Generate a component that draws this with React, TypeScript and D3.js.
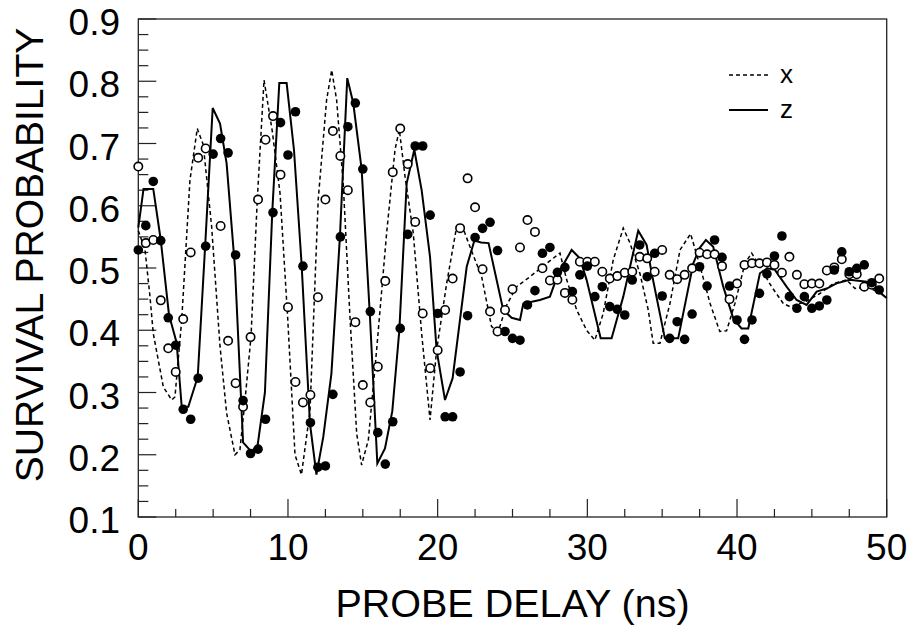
import React from "react";
import * as d3 from "d3";

// ---- data: open circles = x polarisation data, filled = z data ----
const openT = [0,0.5,1,1.5,2,2.5,3,3.5,4,4.5,5.5,6,6.5,7,7.5,8,8.5,9,9.5,10,10.5,11,11.5,12,12.5,13,13.5,14,14.5,15,15.5,16,16.5,17,17.5,18,18.5,19,19.5,20,20.5,21,21.5,22,22.5,23,23.5,24,24.5,25,25.5,26,26.5,27,27.5,28,28.5,29,29.5,30,30.5,31,31.5,32,32.5,33,33.5,34,34.5,35,35.5,36,36.5,37,37.5,38,38.5,39,39.5,40,40.5,41,41.5,42,42.5,43,43.5,44,44.5,45,45.5,46,46.5,47,47.5,48,48.5,49,49.5];
const openV = [0.663,0.54,0.545,0.448,0.371,0.333,0.418,0.525,0.677,0.692,0.5675,0.383,0.315,0.277,0.389,0.61,0.706,0.744,0.65,0.437,0.317,0.284,0.296,0.453,0.61,0.72,0.68,0.625,0.413,0.312,0.284,0.3415,0.479,0.654,0.724,0.667,0.574,0.427,0.339,0.368,0.4325,0.483,0.564,0.644,0.5975,0.498,0.43,0.398,0.4325,0.466,0.533,0.577,0.558,0.4995,0.48,0.481,0.46,0.449,0.51,0.51,0.51,0.494,0.483,0.487,0.4925,0.494,0.518,0.5155,0.494,0.529,0.489,0.482,0.489,0.4995,0.5246,0.522,0.522,0.503,0.45,0.475,0.505,0.5075,0.5075,0.509,0.505,0.4925,0.518,0.489,0.474,0.475,0.475,0.496,0.501,0.514,0.49,0.49,0.47,0.473,0.483];

const filledT = [0,0.5,1,1.5,2,2.5,3,3.5,4,4.5,5,5.5,6,6.5,7,7.5,8,8.5,9,9.5,10,10.5,11,11.5,12,12.5,13,13.5,14,14.5,15,15.5,16,16.5,17,17.5,18,18.5,19,19.5,20,20.5,21,21.5,22,22.5,23,23.5,24,24.5,25,25.5,26,26.5,27,27.5,28,28.5,29,29.5,30,30.5,31,31.5,32,32.5,33,33.5,34,34.5,35,35.5,36,36.5,37,37.5,38,38.5,39,39.5,40,40.5,41,41.5,42,42.5,43,43.5,44,44.5,45,45.5,46,46.5,47,47.5,48,48.5,49,49.5];
const filledV = [0.529,0.568,0.639,0.544,0.42,0.376,0.273,0.257,0.323,0.535,0.683,0.708,0.685,0.521,0.287,0.202,0.209,0.257,0.589,0.7335,0.6815,0.751,0.503,0.2515,0.18,0.182,0.297,0.55,0.727,0.765,0.659,0.43,0.2355,0.185,0.253,0.403,0.554,0.696,0.696,0.585,0.427,0.261,0.261,0.333,0.4234,0.549,0.5637,0.5734,0.528,0.398,0.387,0.384,0.4406,0.4636,0.5236,0.533,0.493,0.501,0.462,0.489,0.503,0.454,0.47,0.438,0.4336,0.4245,0.4807,0.537,0.486,0.5236,0.455,0.387,0.4137,0.3854,0.426,0.502,0.471,0.545,0.517,0.471,0.4165,0.3854,0.4165,0.4593,0.4904,0.5193,0.5514,0.454,0.4353,0.454,0.4353,0.439,0.4486,0.4968,0.526,0.494,0.4995,0.505,0.4764,0.4647];

// ---- theory curves ----
const zT = [0,0.35,1,1.5,2.05,2.56,2.9,3.34,3.97,4.5,4.97,5.46,5.9,6.46,7,7.55,7.97,8.46,8.95,9.42,9.91,10.4,10.9,11.47,11.9,12.36,12.9,13.47,13.96,14.36,14.92,15.48,15.97,16.48,16.97,17.44,17.93,18.44,18.93,19.49,19.93,20.49,21,21.94,22.45,22.9,23.4,24.38,24.94,25.5,25.72,26.83,27.5,28.06,28.95,29.5,29.95,30.89,31.62,32.4,33.4,33.96,34.3,35.18,36.07,37.08,37.5,37.92,38.41,39.08,39.75,40.3,40.75,41.53,42.02,42.53,43.31,43.98,44.65,45.32,45.99,46.65,47.54,48.66,49.88,50];
const zV = [0.565,0.627,0.627,0.545,0.425,0.38,0.277,0.277,0.325,0.55,0.757,0.732,0.668,0.5,0.22,0.205,0.215,0.3,0.59,0.797,0.797,0.69,0.51,0.25,0.168,0.229,0.33,0.55,0.805,0.765,0.659,0.42,0.186,0.21,0.27,0.4,0.636,0.69,0.625,0.518,0.368,0.288,0.323,0.502,0.544,0.541,0.54,0.4325,0.42,0.4165,0.443,0.4486,0.454,0.4915,0.529,0.5156,0.481,0.387,0.387,0.454,0.56,0.537,0.4915,0.387,0.387,0.5075,0.532,0.545,0.534,0.47,0.419,0.403,0.403,0.4915,0.4995,0.497,0.47,0.4486,0.4406,0.462,0.467,0.4754,0.481,0.478,0.454,0.452];

const xT = [0,0.45,0.78,1,1.67,2.23,2.45,2.9,3.45,3.94,4.34,4.9,5.46,5.9,6.46,6.79,7.1,7.53,7.95,8.4,8.95,9.47,9.98,10.47,10.9,11.47,12.02,12.58,12.92,13.25,13.69,14.14,14.59,14.92,15.37,15.92,16.59,17.15,17.44,17.82,18.37,18.93,19.49,19.93,20.6,21.27,21.6,22.16,22.94,23.6,24.05,24.6,25.28,26.17,27.28,28.17,28.62,29.29,29.95,30.5,31.06,31.73,32.4,32.85,33.51,34.07,34.4,34.85,35.52,36.19,36.9,37.54,38.2,38.85,39.3,39.86,40.53,40.98,41.53,42.31,43.09,43.53,44.5,45.54,46.43,47.32,47.88,48.66,49.88];
const xV = [0.56,0.529,0.454,0.395,0.309,0.288,0.293,0.4165,0.641,0.724,0.698,0.5665,0.374,0.267,0.2,0.208,0.28,0.39,0.61,0.802,0.72,0.62,0.42,0.2,0.168,0.27,0.61,0.77,0.818,0.77,0.636,0.422,0.234,0.1835,0.224,0.368,0.556,0.69,0.722,0.647,0.556,0.395,0.256,0.368,0.475,0.5665,0.57,0.534,0.486,0.406,0.398,0.44,0.47,0.486,0.5075,0.524,0.481,0.4325,0.4,0.384,0.427,0.513,0.564,0.54,0.4915,0.4325,0.379,0.379,0.443,0.529,0.555,0.502,0.443,0.398,0.399,0.443,0.5075,0.524,0.502,0.47,0.443,0.438,0.445,0.459,0.475,0.481,0.467,0.47,0.4565];

const xTickLabels = [0, 10, 20, 30, 40, 50];
const yTickLabels = [0.1, 0.2, 0.3, 0.4, 0.5, 0.6, 0.7, 0.8, 0.9];
const legendLabels = ["x", "z"];

const W = 911, H = 626;
const FONT = "'Liberation Sans', Arial, Helvetica, sans-serif";

export default function App() {
  const x = d3.scaleLinear().domain([0, 50]).range([138.3, 886.7]);
  const y = d3.scaleLinear().domain([0.1, 0.9]).range([517, 19]);

  const line = d3.line<[number, number]>().x(d => x(d[0])).y(d => y(d[1]));
  const zPath = line(zT.map((t, i) => [t, zV[i]]) as [number, number][]) || "";
  const xPath = line(xT.map((t, i) => [t, xV[i]]) as [number, number][]) || "";

  const xMinor = d3.range(0, 50.001, 2.5);
  const yMinor = d3.range(0.1, 0.9001, 0.025);

  return (
    <svg width={W} height={H} style={{ position: "absolute", left: 0, top: 0, background: "#fff" }}>
      <rect x={0} y={0} width={W} height={H} fill="#fff" />
      {/* frame */}
      <rect x={x(0)} y={y(0.9)} width={x(50) - x(0)} height={y(0.1) - y(0.9)} fill="none" stroke="#222" strokeWidth={1.3} />
      {/* ticks */}
      {xMinor.map((v, i) => {
        const major = Math.abs(v % 10) < 1e-6;
        return <line key={"xt" + i} x1={x(v)} x2={x(v)} y1={y(0.1)} y2={y(0.1) - (major ? 18 : 8)} stroke="#222" strokeWidth={1.2} />;
      })}
      {yMinor.map((v, i) => {
        const major = Math.abs(Math.round(v * 10) - v * 10) < 1e-6;
        return <line key={"yt" + i} x1={x(0)} x2={x(0) + (major ? 18 : 10)} y1={y(v)} y2={y(v)} stroke="#222" strokeWidth={1.2} />;
      })}
      {/* tick labels */}
      {xTickLabels.map(v => (
        <text key={"xl" + v} x={x(v)} y={560} textAnchor="middle" fontFamily={FONT} fontSize={37} fill="#000">{v}</text>
      ))}
      {yTickLabels.map(v => (
        <text key={"yl" + v} x={120} y={y(v) + 16} textAnchor="end" fontFamily={FONT} fontSize={37} fill="#000">{v.toFixed(1)}</text>
      ))}
      {/* axis titles */}
      <text x={512.5} y={617} textAnchor="middle" fontFamily={FONT} fontSize={39.5} fill="#000">PROBE DELAY (ns)</text>
      <text transform="translate(43,255) rotate(-90)" textAnchor="middle" fontFamily={FONT} fontSize={39} fill="#000">SURVIVAL PROBABILITY</text>

      {/* theory curves */}
      <path d={xPath} fill="none" stroke="#000" strokeWidth={1.5} strokeDasharray="4,3" />
      <path d={zPath} fill="none" stroke="#000" strokeWidth={2} strokeLinejoin="miter" />

      {/* data */}
      {openT.map((t, i) => (
        <circle key={"o" + i} cx={x(t)} cy={y(openV[i])} r={4.2} fill="#fff" stroke="#000" strokeWidth={1.6} />
      ))}
      {filledT.map((t, i) => (
        <circle key={"f" + i} cx={x(t)} cy={y(filledV[i])} r={4.8} fill="#000" />
      ))}

      {/* legend */}
      <line x1={729} x2={768} y1={75} y2={75} stroke="#000" strokeWidth={1.5} strokeDasharray="4,3" />
      <text x={780} y={83} fontFamily={FONT} fontSize={26} fill="#000">{legendLabels[0]}</text>
      <line x1={729} x2={768} y1={110} y2={110} stroke="#000" strokeWidth={2} />
      <text x={780} y={118} fontFamily={FONT} fontSize={26} fill="#000">{legendLabels[1]}</text>
    </svg>
  );
}
